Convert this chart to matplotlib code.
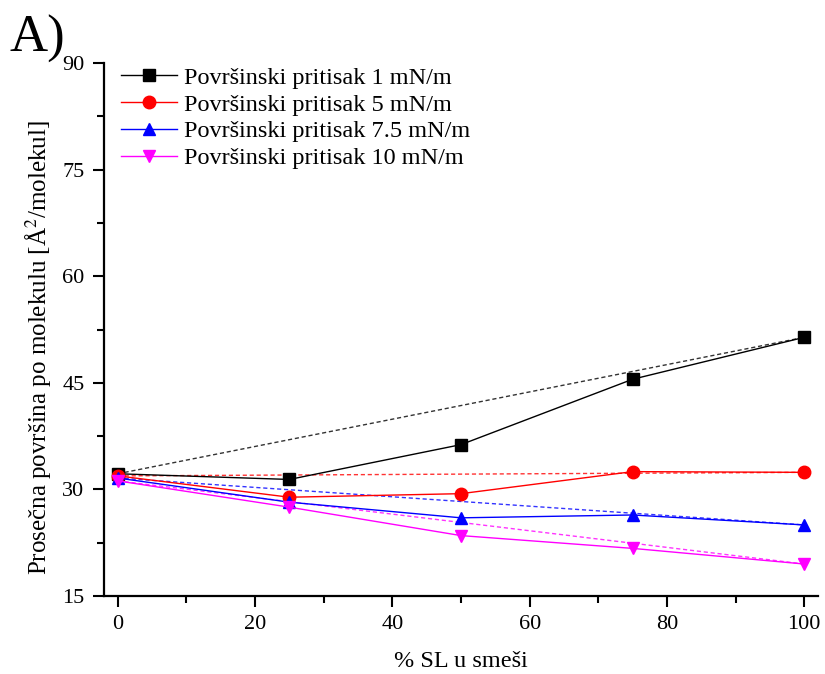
import matplotlib
matplotlib.use("Agg")
import matplotlib.pyplot as plt
from matplotlib.ticker import MultipleLocator

plt.rcParams['font.family'] = ['Liberation Serif', 'DejaVu Serif']
plt.rcParams['mathtext.fontset'] = 'stix'

# % SL in the mixture
sl_percent = [0, 25, 50, 75, 100]

# mean molecular area [Å²/molecule] at each surface pressure
area_1 = [32.2, 31.4, 36.3, 45.5, 51.4]
area_5 = [31.9, 28.9, 29.4, 32.5, 32.4]
area_7_5 = [31.6, 28.2, 26.0, 26.4, 25.0]
area_10 = [31.2, 27.5, 23.5, 21.7, 19.5]

labels = ["Površinski pritisak 1 mN/m",
          "Površinski pritisak 5 mN/m",
          "Površinski pritisak 7.5 mN/m",
          "Površinski pritisak 10 mN/m"]
colors = ["#000000", "#ff0000", "#0000ff", "#ff00ff"]
markers = ["s", "o", "^", "v"]
series = [area_1, area_5, area_7_5, area_10]

fig = plt.figure(figsize=(8.25, 6.74), dpi=100)
ax = fig.add_axes([104 / 825, 1 - 596 / 674, (818 - 104) / 825, (596 - 63) / 674])

for vals, col in zip(series, colors):
    # ideal-mixing line between the pure components
    ax.plot([sl_percent[0], sl_percent[-1]], [vals[0], vals[-1]],
            color=col, lw=1.0, ls=(0, (3, 2)), alpha=0.8, zorder=2)
for vals, lab, col, mk in zip(series, labels, colors, markers):
    ax.plot(sl_percent, vals, color=col, lw=1.0, marker=mk, ms=9,
            mec=col, mfc=col, label=lab, zorder=3)

ax.set_xlim(-2, 102)
ax.set_ylim(15, 90)
ax.xaxis.set_major_locator(MultipleLocator(20))
ax.xaxis.set_minor_locator(MultipleLocator(10))
ax.yaxis.set_major_locator(MultipleLocator(15))
ax.yaxis.set_minor_locator(MultipleLocator(7.5))

for s in ("top", "right"):
    ax.spines[s].set_visible(False)
for s in ("left", "bottom"):
    ax.spines[s].set_linewidth(1.6)

ax.tick_params(which="major", direction="out", length=8, width=1.5, labelsize=16, pad=6)
ax.tick_params(which="minor", direction="out", length=5, width=1.5)

ax.set_xlabel("% SL u smeši", fontsize=17.5, labelpad=12)
ax.set_ylabel(r"Prosečna površina po molekulu [Å$^{2}$/molekul]", fontsize=18)
ax.yaxis.set_label_coords(-0.072, 0.466)

leg = ax.legend(loc="upper left", bbox_to_anchor=(0.0, 1.025), frameon=False,
                fontsize=17.5, handlelength=2.3, handletextpad=0.3,
                labelspacing=0.2, borderaxespad=0.3)

fig.text(10 / 825, 1 - 52 / 674, "A)", fontsize=38)

fig.savefig("out.png", dpi=100)
